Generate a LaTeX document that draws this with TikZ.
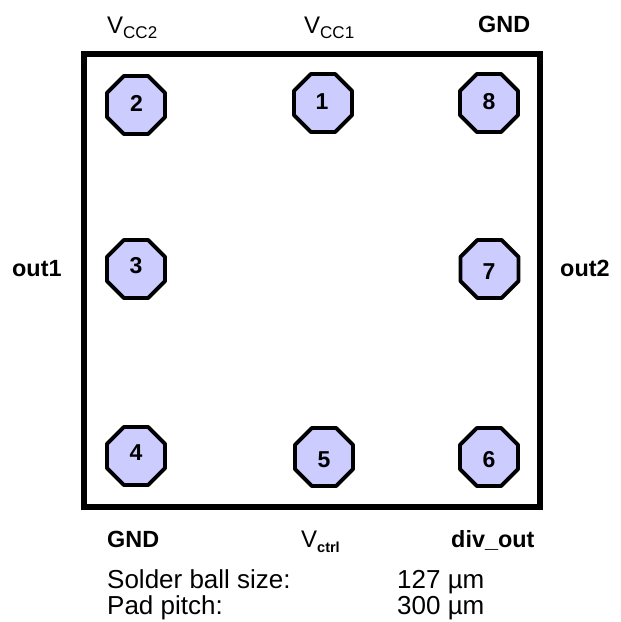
\documentclass[tikz,border=0pt]{standalone}
\usepackage{fontspec}
\setmainfont{Liberation Sans}
\usetikzlibrary{shapes.geometric}
\tikzset{
  x=1pt,y=-1pt,
  pad/.style={regular polygon,regular polygon sides=8,minimum size=62.8pt,inner sep=0pt,outer sep=0pt,draw=black,line width=3.9pt,line join=round,fill=padfill},
  padnum/.style={font=\fontsize{23}{23}\selectfont\bfseries,inner sep=0pt,anchor=center},
  lab/.style={font=\fontsize{23.4}{23.4}\selectfont\bfseries,inner sep=0pt,anchor=base west},
  vlab/.style={font=\fontsize{24}{24}\selectfont,inner sep=0pt,anchor=base west},
  plain/.style={font=\fontsize{26}{26}\selectfont,inner sep=0pt,anchor=base west},
}
\definecolor{padfill}{RGB}{204,204,255}
\newcommand{\subsc}[2]{\raisebox{-5.5pt}{\fontsize{#1}{#1}\selectfont #2}}
\begin{document}
\begin{tikzpicture}
\useasboundingbox (0,0) rectangle (621,622);
\node[draw=black,line width=5.2pt,minimum width=456pt,minimum height=453pt,inner sep=0pt,outer sep=0pt,anchor=north west] (chip) at (84,54) {};
\node[pad] (p2) at (136,105) {};
\node[pad] (p1) at (323,103) {};
\node[pad] (p8) at (489,103) {};
\node[pad] (p3) at (136,269) {};
\node[pad] (p7) at (489.5,269) {};
\node[pad] (p4) at (136,456) {};
\node[pad] (p5) at (324,457) {};
\node[pad] (p6) at (489,457) {};
\node[padnum] (n2) at (136.5,103) {2};
\node[padnum] (n1) at (322,102) {1};
\node[padnum] (n8) at (489,102) {8};
\node[padnum] (n3) at (136,266) {3};
\node[padnum] (n7) at (489,272) {7};
\node[padnum] (n4) at (136,453) {4};
\node[padnum] (n5) at (324,460) {5};
\node[padnum] (n6) at (489,460) {6};
\node[vlab] (vcc2) at (107,33) {V\subsc{17}{CC2}};
\node[vlab] (vcc1) at (304,33) {V\subsc{17}{CC1}};
\node[lab] (gndt) at (478,32) {GND};
\node[lab] (out1) at (12,276) {out1};
\node[lab] (out2) at (560,276) {out2};
\node[lab] (gndb) at (107,547) {GND};
\node[vlab] (vctrl) at (301,547) {V\subsc{14.5}{\bfseries ctrl}};
\node[lab] (divout) at (451,547) {div\_out};
\node[plain] (s1) at (107,588) {Solder ball size:};
\node[plain] (s2) at (107,614) {Pad pitch:};
\node[plain] (v1) at (397,588) {127 µm};
\node[plain] (v2) at (397,614) {300 µm};
\end{tikzpicture}
\end{document}
